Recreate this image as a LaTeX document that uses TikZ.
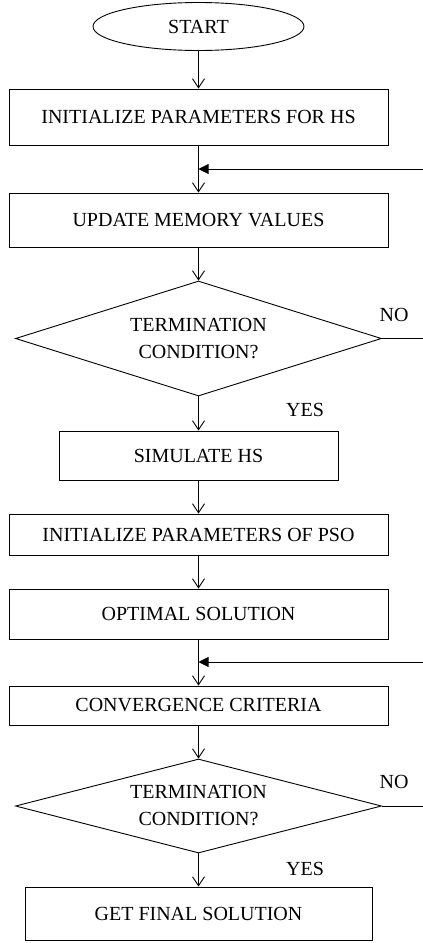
\documentclass[tikz,border=0pt]{standalone}
\usepackage{fontspec}
\setmainfont{Liberation Serif}
\usetikzlibrary{shapes.geometric,arrows.meta}
\begin{document}
\begin{tikzpicture}[x=1pt,y=-1pt,
  every node/.style={font=\fontsize{20}{27}\selectfont, inner sep=0pt},
  proc/.style={draw, rectangle, line width=0.9pt, align=center},
  term/.style={draw, ellipse, line width=0.9pt},
  decis/.style={draw, diamond, line width=0.9pt, align=center},
  flow/.style={line width=0.9pt, -{Straight Barb[length=9pt,width=12pt]}},
  back/.style={line width=0.9pt, -{Triangle[length=10pt,width=10pt]}},
  plain/.style={line width=0.9pt},
  lbl/.style={font=\fontsize{20}{24}\selectfont}]
\useasboundingbox (0,0) rectangle (423,943);
\node[term, minimum width=211pt, minimum height=48pt] (start) at (198.5,26.5) {START};
\node[proc, minimum width=379pt, minimum height=56pt] (b1) at (198.5,117) {INITIALIZE PARAMETERS FOR HS};
\node[proc, minimum width=379pt, minimum height=54pt] (b2) at (198.5,220) {UPDATE MEMORY VALUES};
\node[decis, aspect=3.18, minimum width=366pt, minimum height=115pt] (d1) at (198.5,338.5) {TERMINATION\\CONDITION?};
\node[proc, minimum width=279pt, minimum height=49pt] (b3) at (198.5,455.5) {SIMULATE HS};
\node[proc, minimum width=379pt, minimum height=41pt] (b4) at (198.5,534.5) {INITIALIZE PARAMETERS OF PSO};
\node[proc, minimum width=379pt, minimum height=50pt] (b5) at (198.5,614) {OPTIMAL SOLUTION};
\node[proc, minimum width=379pt, minimum height=39pt] (b6) at (198.5,705.5) {CONVERGENCE CRITERIA};
\node[decis, aspect=3.89, minimum width=366pt, minimum height=94pt] (d2) at (198.5,806) {TERMINATION\\CONDITION?};
\node[proc, minimum width=347pt, minimum height=53pt] (b7) at (198.5,913.5) {GET FINAL SOLUTION};
\node[lbl] (no1) at (394,315) {NO};
\node[lbl] (yes1) at (305,410) {YES};
\node[lbl] (no2) at (394,782) {NO};
\node[lbl] (yes2) at (305,869) {YES};
\coordinate (fb1) at (423,169);
\coordinate (fb2) at (423,662);
\coordinate (ex1) at (423,338.5);
\coordinate (ex2) at (423,806);
\draw[flow] (start) -- (b1);
\draw[flow] (b1) -- (b2);
\draw[flow] (b2) -- (d1);
\draw[flow] (d1) -- (b3);
\draw[flow] (b3) -- (b4);
\draw[flow] (b4) -- (b5);
\draw[flow] (b5) -- (b6);
\draw[flow] (b6) -- (d2);
\draw[flow] (d2) -- (b7);
\draw[back] (fb1) -- (fb1 -| b1);
\draw[back] (fb2) -- (fb2 -| b5);
\draw[plain] (d1.east) -- (ex1);
\draw[plain] (d2.east) -- (ex2);
\end{tikzpicture}
\end{document}
